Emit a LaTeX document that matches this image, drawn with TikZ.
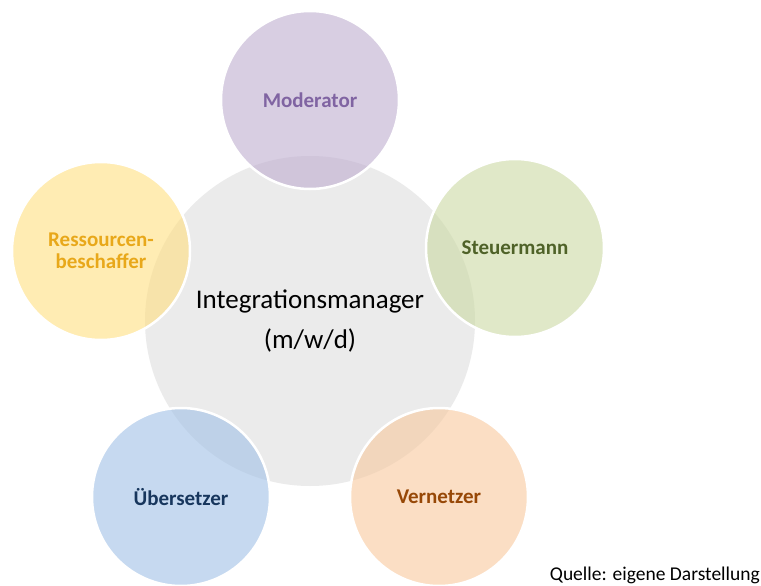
\documentclass[tikz,border=0pt]{standalone}
\usepackage{fontspec}
\setmainfont{Carlito}
\definecolor{centergray}{RGB}{235,235,235}
\definecolor{modfill}{RGB}{190,173,207}
\definecolor{modtext}{RGB}{128,100,162}
\definecolor{steufill}{RGB}{203,217,163}
\definecolor{steutext}{RGB}{79,98,40}
\definecolor{resfill}{RGB}{255,223,128}
\definecolor{restext}{RGB}{232,168,26}
\definecolor{uebfill}{RGB}{160,192,230}
\definecolor{uebtext}{RGB}{23,54,93}
\definecolor{vernfill}{RGB}{248,200,157}
\definecolor{verntext}{RGB}{151,72,7}

\begin{document}
\begin{tikzpicture}[x=1pt,y=-1pt,
	role/.style={circle,minimum size=178pt,inner sep=0pt,draw=white,line width=2.5pt,
		fill opacity=0.6,text opacity=1,align=center,font=\fontsize{21}{22}\selectfont\bfseries},
	every node/.style={inner sep=0pt}]
	\useasboundingbox (0,0) rectangle (761,586);
	\node[circle,minimum size=330pt,fill=centergray,align=center,
		font=\fontsize{27}{40}\selectfont] (manager) at (310,321) {Integrationsmanager\\(m/w/d)};
	\node[role,fill=modfill,text=modtext] (moderator) at (310,100) {Moderator};
	\node[role,fill=steufill,text=steutext] (steuermann) at (515,248) {Steuermann};
	\node[role,fill=vernfill,text=verntext] (vernetzer) at (439,497) {Vernetzer};
	\node[role,fill=uebfill,text=uebtext] (uebersetzer) at (181,497) {Übersetzer};
	\node[role,fill=resfill,text=restext] (ressourcen) at (101,251) {Ressourcen-\\beschaffer};
	\node[anchor=base east,font=\fontsize{19.5}{22}\selectfont] (quelle) at (760,580) {Quelle: eigene Darstellung};
\end{tikzpicture}
\end{document}
